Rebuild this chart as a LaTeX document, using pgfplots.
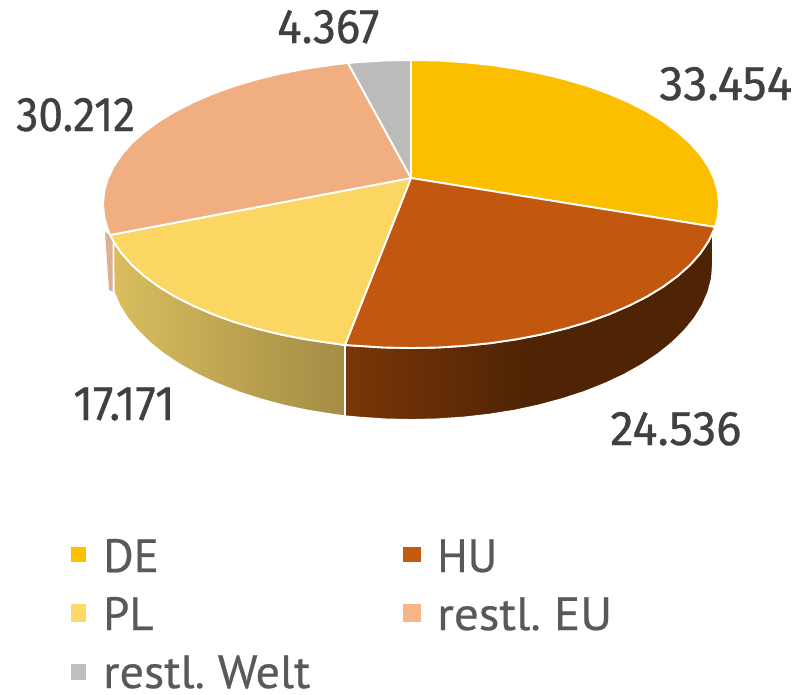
\documentclass[border=0pt]{standalone}
\usepackage{fontspec}
\usepackage{pgfplots}
\pgfplotsset{compat=1.18}
\setmainfont{PT Sans}
\newfontfamily\labfont[Numbers=Proportional,FakeBold=0.6]{Fira Sans}
\newfontfamily\legfont[FakeBold=0.5]{PT Sans}
\definecolor{cDE}{HTML}{FBBF00}
\definecolor{cHU}{HTML}{C2580F}
\definecolor{cPL}{HTML}{FBD663}
\definecolor{cEU}{HTML}{F1AE81}
\definecolor{cWE}{HTML}{BBBBBB}
\definecolor{mDE}{HTML}{FFC000}
\definecolor{mHU}{HTML}{C55A11}
\definecolor{mPL}{HTML}{FFD966}
\definecolor{mEU}{HTML}{F6B488}
\definecolor{mWE}{HTML}{BFBFBF}
\definecolor{cSL}{HTML}{DDB093}
\definecolor{lab}{HTML}{404040}
\definecolor{leg}{HTML}{595959}
\definecolor{huA}{HTML}{7A3608}
\definecolor{huB}{HTML}{4E2404}
\definecolor{plA}{HTML}{D9BD5E}
\definecolor{plB}{HTML}{A38C45}
\pgfdeclarehorizontalshading{huside}{100bp}{color(0bp)=(huA); color(25bp)=(huA); color(50bp)=(huB); color(100bp)=(huB)}
\pgfdeclarehorizontalshading{plside}{100bp}{color(0bp)=(plA); color(25bp)=(plA); color(75bp)=(plB); color(100bp)=(plB)}
\newcommand{\lbl}[2]{\scalebox{#1}[1]{\fontsize{36.5}{36.5}\labfont\textcolor{lab}{#2}}}
\newcommand{\lgd}[2]{\scalebox{#1}[1]{\fontsize{35}{35}\legfont\spaceskip=0.18em\textcolor{leg}{#2}}}
\begin{document}
\begin{tikzpicture}
\begin{axis}[
  scale only axis, width=600pt, height=520.5pt,
  xmin=0, xmax=800, ymin=0, ymax=694, y dir=reverse,
  hide axis, clip=false,
  every axis plot/.append style={line join=round},
]
\path (axis cs:0,0) rectangle (axis cs:800,694);
% side of restl. EU
\addplot[fill=cSL, draw=none, forget plot] coordinates {(105,232)(110,235)(113.5,241)(113.5,292)(109,290)(105,232)};
% side of PL
\addplot[shade, shading=plside, draw=white, line width=1.4pt] coordinates {
(345,345)(331.3,343.1)(305.7,339.3)(280.8,334.5)(257,328.7)(234.3,322)(213,314.3)(193.2,305.8)(175.1,296.6)(158.7,286.6)(144.3,276)(131.9,264.9)(121.6,253.3)(113.5,241.3)
(113.6,291.9)(119.3,305.1)(127.2,318)(137.3,330.5)(149.5,342.5)(163.6,353.9)(179.7,364.6)(197.5,374.6)(216.9,383.7)(237.8,392)(260,399.2)(283.4,405.5)(307.7,410.7)(332.8,414.7)(345,416.3)(345,345)};
% side of HU
\addplot[shade, shading=huside, draw=white, line width=1.4pt] coordinates {
(345,345)(357.5,345.8)(384.1,347.5)(411,348)(437.9,347.5)(464.5,345.8)(490.7,343.1)(516.3,339.3)(541.2,334.5)(565,328.7)(587.7,322)(609,314.3)(628.8,305.8)(646.9,296.6)(663.3,286.6)(677.7,276)(690.1,264.9)(700.4,253.3)(708.5,241.3)(713,232)
(713,265)(711.9,278.5)(708.4,291.9)(702.7,305.1)(694.8,318)(684.7,330.5)(672.5,342.5)(658.4,353.9)(642.3,364.6)(624.5,374.6)(605.1,383.7)(584.2,392)(562,399.2)(538.6,405.5)(514.3,410.7)(489.2,414.7)(463.4,417.6)(437.3,419.4)(411,420)(384.7,419.4)(358.6,417.6)(345,416.3)(345,345)};
% top: DE
\addplot[fill=cDE, draw=white, line width=1.4pt] coordinates {
(411,178)(411,60)(437.9,60.5)(464.5,62.2)(490.7,64.9)(516.3,68.7)(541.2,73.5)(565,79.3)(587.7,86)(609,93.7)(628.8,102.2)(646.9,111.4)(663.3,121.4)(677.7,132)(690.1,143.1)(700.4,154.7)(708.5,166.7)(714.3,179)(717.8,191.4)(719,204)(717.8,216.6)(715,227)(411,178)};
% top: HU
\addplot[fill=cHU, draw=white, line width=1.4pt] coordinates {
(411,178)(715,227)(714.3,229)(708.5,241.3)(700.4,253.3)(690.1,264.9)(677.7,276)(663.3,286.6)(646.9,296.6)(628.8,305.8)(609,314.3)(587.7,322)(565,328.7)(541.2,334.5)(516.3,339.3)(490.7,343.1)(464.5,345.8)(437.9,347.5)(411,348)(384.1,347.5)(357.5,345.8)(345,345)(411,178)};
% top: PL
\addplot[fill=cPL, draw=white, line width=1.4pt] coordinates {
(411,178)(345,345)(331.3,343.1)(305.7,339.3)(280.8,334.5)(257,328.7)(234.3,322)(213,314.3)(193.2,305.8)(175.1,296.6)(158.7,286.6)(144.3,276)(131.9,264.9)(121.6,253.3)(113.5,241.3)(110,235)(411,178)};
% top: restl. EU
\addplot[fill=cEU, draw=white, line width=1.4pt] coordinates {
(411,178)(110,235)(107.7,229)(104.2,216.6)(103,204)(104.2,191.4)(107.7,179)(113.5,166.7)(121.6,154.7)(131.9,143.1)(144.3,132)(158.7,121.4)(175.1,111.4)(193.2,102.2)(213,93.7)(234.3,86)(257,79.3)(280.8,73.5)(305.7,68.7)(331.3,64.9)(348,63)(411,178)};
% top: restl. Welt
\addplot[fill=cWE, draw=white, line width=1.4pt] coordinates {
(411,178)(348,63)(357.5,62.2)(384.1,60.5)(411,60)(411,178)};
% legend markers
\addplot[only marks, color=mDE, mark=square*, mark size=5.6pt, mark options={draw=mDE, fill=mDE, line width=0pt}] coordinates {(78.5,554.5)};
\addplot[only marks, color=mHU, mark=square*, mark size=5.6pt, mark options={draw=mHU, fill=mHU, line width=0pt, xscale=1.2}] coordinates {(412,554.5)};
\addplot[only marks, color=mPL, mark=square*, mark size=5.6pt, mark options={draw=mPL, fill=mPL, line width=0pt, yscale=1.2}] coordinates {(78.5,613)};
\addplot[only marks, color=mEU, mark=square*, mark size=5.6pt, mark options={draw=mEU, fill=mEU, line width=0pt, xscale=1.2, yscale=1.2}] coordinates {(412,613)};
\addplot[only marks, color=mWE, mark=square*, mark size=5.6pt, mark options={draw=mWE, fill=mWE, line width=0pt}] coordinates {(78.5,672)};
% data labels
\node[anchor=base west, inner sep=0pt] at (axis cs:659,100) {\lbl{0.99}{33.454}};
\node[anchor=base west, inner sep=0pt] at (axis cs:277,43) {\lbl{0.94}{4.367}};
\node[anchor=base west, inner sep=0pt] at (axis cs:16,131) {\lbl{0.91}{30.212}};
\node[anchor=base west, inner sep=0pt] at (axis cs:73,420) {\lbl{0.94}{17.171}};
\node[anchor=base west, inner sep=0pt] at (axis cs:610,445) {\lbl{0.97}{24.536}};
% legend text
\node[anchor=base west, inner sep=0pt] at (axis cs:103,572) {\lgd{1}{DE}};
\node[anchor=base west, inner sep=0pt] at (axis cs:437,572) {\lgd{0.97}{HU}};
\node[anchor=base west, inner sep=0pt] at (axis cs:103,630) {\lgd{1}{PL}};
\node[anchor=base west, inner sep=0pt] at (axis cs:437,630) {\lgd{1.05}{restl. EU}};
\node[anchor=base west, inner sep=0pt] at (axis cs:103,688) {\lgd{1.03}{restl. Welt}};
\end{axis}
\end{tikzpicture}
\end{document}
